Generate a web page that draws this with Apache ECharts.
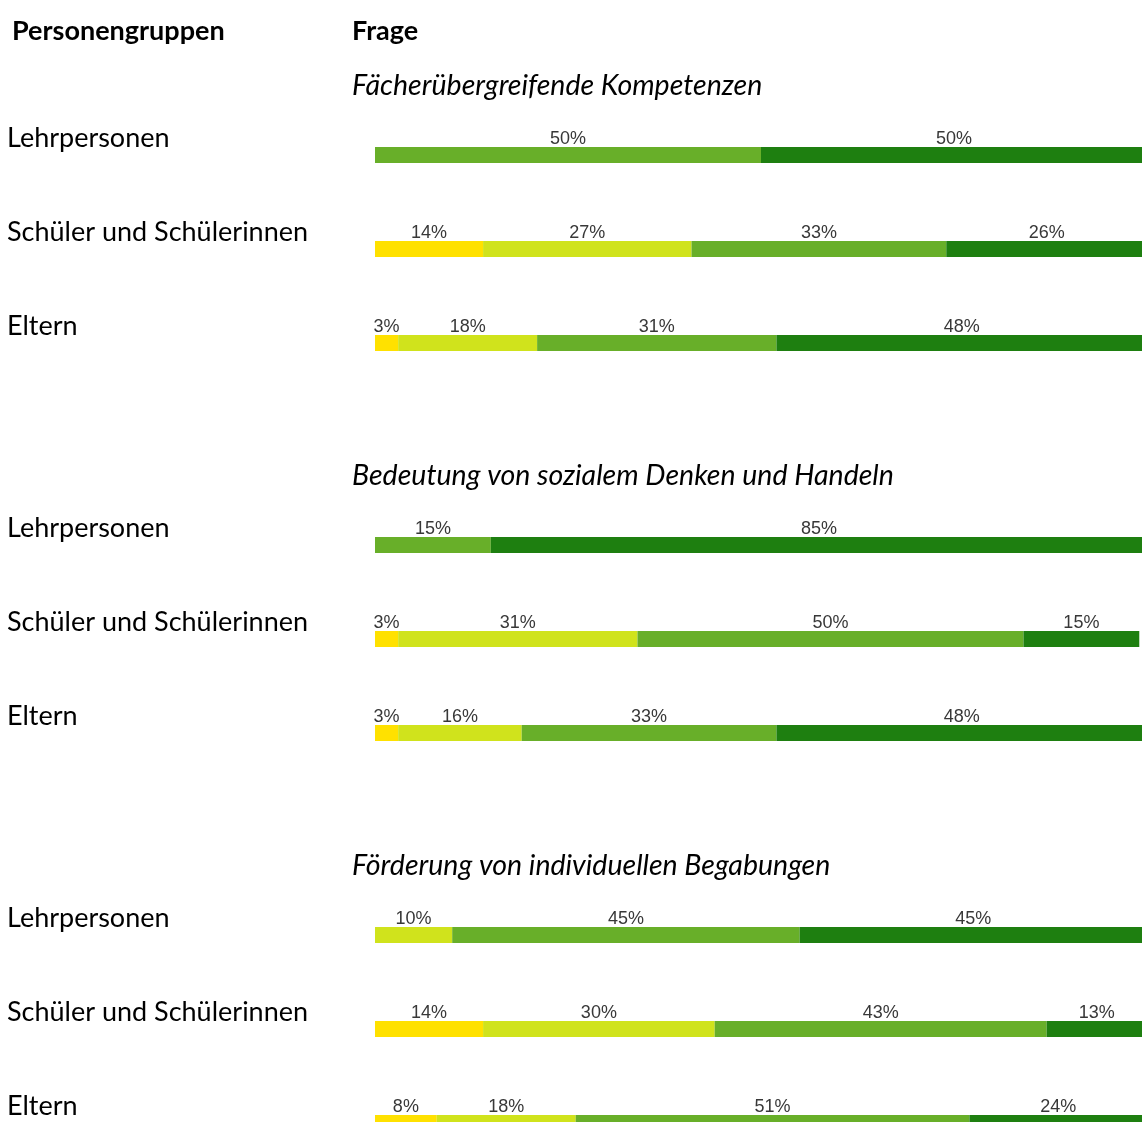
<!DOCTYPE html>
<html>
<head>
<meta charset="utf-8">
<script src="https://cdn.jsdelivr.net/npm/echarts@6/dist/echarts.min.js"></script>
<style>
  html, body { margin: 0; padding: 0; background: #fff; }
  #chart { width: 1142px; height: 1122px; }
</style>
</head>
<body>
<div id="chart"></div>
<script>
// Groups of respondents and the three questions
const groups = ['Lehrpersonen', 'Schüler und Schülerinnen', 'Eltern'];
const questions = [
  'Fächerübergreifende Kompetenzen',
  'Bedeutung von sozialem Denken und Handeln',
  'Förderung von individuellen Begabungen'
];
const levels = ['trifft nicht zu', 'trifft eher nicht zu', 'trifft eher zu', 'trifft zu'];
const levelColors = ['#FFE100', '#D0E31C', '#68AF29', '#1E7F10'];

// Shares in percent, three rows per question (Lehrpersonen, Schüler, Eltern)
const nichtZu   = [null, 14, 3,   null, 3, 3,    null, 14, 8];
const eherNicht = [null, 27, 18,  null, 31, 16,  10, 30, 18];
const eherZu    = [50, 33, 31,    15, 50, 33,    45, 43, 51];
const zu        = [50, 26, 48,    85, 15, 48,    45, 13, 24];
const levelData = [nichtZu, eherNicht, eherZu, zu];

const headerLeft = 'Personengruppen';
const headerRight = 'Frage';

const gridTops = [108, 498, 888];
const rowSlot = 94;

const textFont = 'Lato, "Open Sans", sans-serif';
const valueFont = '"Liberation Sans", Arial, sans-serif';

const grids = [], xAxes = [], yAxes = [], series = [];
const titles = [
  { text: headerLeft, left: 12, top: 18, padding: 0,
    textStyle: { fontFamily: textFont, fontSize: 27, fontWeight: 'bold', color: '#000' } },
  { text: headerRight, left: 352, top: 18, padding: 0,
    textStyle: { fontFamily: textFont, fontSize: 27, fontWeight: 'bold', color: '#000' } }
];

questions.forEach((q, qi) => {
  grids.push({
    left: 375, width: 772, top: gridTops[qi], height: rowSlot * groups.length,
    outerBoundsMode: 'none', containLabel: false
  });
  titles.push({
    text: q, left: 352, top: gridTops[qi] - 37, padding: 0,
    textStyle: { fontFamily: textFont, fontSize: 28.5, fontStyle: 'italic', fontWeight: 'normal', color: '#000' }
  });
  xAxes.push({
    type: 'value', gridIndex: qi, min: 0, max: 100,
    show: false
  });
  yAxes.push({
    type: 'category', gridIndex: qi, inverse: true, data: groups,
    axisLine: { show: false }, axisTick: { show: false },
    axisLabel: {
      align: 'left', margin: 368,
      fontFamily: textFont, fontSize: 27, color: '#000',
      verticalAlign: 'bottom', lineHeight: 33
    }
  });
  levels.forEach((lv, li) => {
    series.push({
      name: lv, type: 'bar', stack: 'q' + qi,
      xAxisIndex: qi, yAxisIndex: qi,
      barWidth: 16,
      itemStyle: { color: levelColors[li] },
      label: {
        show: true, position: 'top', distance: -1,
        formatter: p => p.value == null ? '' : p.value + '%',
        fontFamily: valueFont, fontSize: 18, color: '#383838'
      },
      data: levelData[li].slice(qi * 3, qi * 3 + 3)
    });
  });
});

const chart = echarts.init(document.getElementById('chart'), null, { renderer: 'canvas' });
chart.setOption({
  backgroundColor: '#fff',
  animation: false,
  title: titles,
  grid: grids,
  xAxis: xAxes,
  yAxis: yAxes,
  series: series
});
</script>
</body>
</html>
